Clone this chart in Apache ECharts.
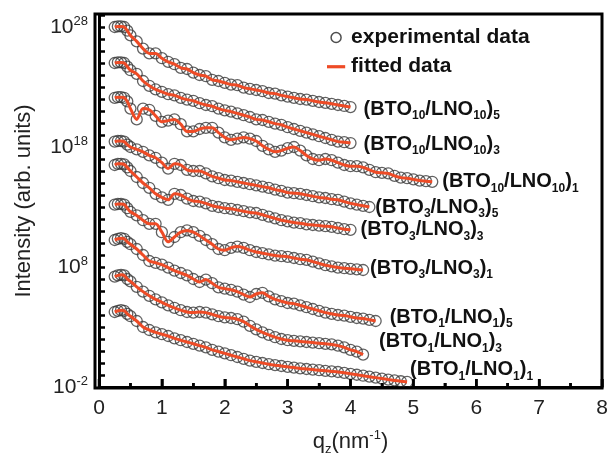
<!DOCTYPE html>
<html>
<head>
<meta charset="utf-8">
<script src="https://cdn.jsdelivr.net/npm/echarts@6/dist/echarts.min.js"></script>
<style>
  html, body { margin: 0; padding: 0; background: #fff; }
  #chart { width: 608px; height: 454px; }
</style>
</head>
<body>
<div id="chart"></div>
<script>
// q_z sampling points (nm^-1), shared by all curves
var qz = [0.25, 0.3, 0.35, 0.4, 0.45, 0.5, 0.6, 0.7, 0.8, 0.9, 1.0, 1.1, 1.2, 1.3, 1.4, 1.5, 1.6, 1.7, 1.8, 1.9,
	2.0, 2.1, 2.2, 2.3, 2.4, 2.5, 2.6, 2.7, 2.8, 2.9, 3.0, 3.1, 3.2, 3.3, 3.4, 3.5, 3.6, 3.7, 3.8, 3.9,
	4.0, 4.1, 4.2, 4.3, 4.4, 4.5, 4.6, 4.7, 4.8, 4.9, 5.0, 5.1, 5.2, 5.3];

// log10(intensity) of each (offset) curve
var lgI_10_10_5 = [28.0, 28.05, 28.05, 28.0, 27.7, 27.3, 26.8, 26.2, 25.8, 25.8, 25.4, 25.1, 24.9, 24.6, 24.5, 24.2, 24.0, 23.9, 23.6, 23.5,
	23.35, 23.2, 23.15, 22.95, 22.85, 22.75, 22.65, 22.5, 22.45, 22.3, 22.2, 22.1, 22.0, 21.95, 21.85, 21.75, 21.68, 21.6, 21.5, 21.42, 21.33];
var lgI_10_10_3 = [25.0, 25.05, 25.05, 25.0, 24.7, 24.4, 24.1, 23.5, 23.1, 22.8, 22.6, 22.4, 22.3, 22.1, 21.95, 21.85, 21.65, 21.5, 21.4, 21.2,
	21.05, 20.95, 20.8, 20.65, 20.5, 20.3, 20.25, 20.1, 19.95, 19.85, 19.65, 19.5, 19.35, 19.2, 19.05, 18.9, 18.75, 18.6, 18.45, 18.4, 18.33];
var lgI_10_10_1 = [22.1, 22.15, 22.15, 22.1, 21.8, 21.2, 20.3, 21.2, 21.1, 20.6, 20.1, 20.2, 20.3, 19.9, 19.3, 19.3, 19.5, 19.6, 19.6, 19.2,
	18.8, 18.6, 18.7, 18.8, 18.7, 18.5, 18.1, 17.8, 17.6, 17.7, 17.9, 18.0, 17.7, 17.3, 17.0, 16.9, 17.0, 16.9, 16.7, 16.5,
	16.4, 16.4, 16.3, 16.1, 15.9, 15.85, 15.8, 15.6, 15.45, 15.4, 15.3, 15.2, 15.15, 15.1];
var lgI_3_3_5 = [18.45, 18.5, 18.5, 18.45, 18.2, 18.0, 17.8, 17.6, 17.3, 17.1, 16.7, 16.2, 16.6, 16.5, 16.1, 16.0, 16.0, 15.8, 15.55, 15.4,
	15.25, 15.2, 15.1, 15.0, 14.9, 14.8, 14.7, 14.6, 14.45, 14.35, 14.2, 14.15, 14.1, 14.0, 13.9, 13.8, 13.75, 13.65, 13.6, 13.45,
	13.3, 13.2, 13.1, 13.0];
var lgI_3_3_3 = [16.5, 16.6, 16.6, 16.55, 16.3, 16.0, 15.5, 15.0, 14.6, 14.1, 13.8, 13.6, 14.1, 14.0, 13.7, 13.5, 13.45, 13.3, 13.1, 13.0,
	12.9, 12.85, 12.75, 12.65, 12.55, 12.5, 12.35, 12.2, 12.05, 11.9, 11.8, 11.7, 11.65, 11.55, 11.5, 11.45, 11.4, 11.35, 11.25, 11.15, 11.1];
var lgI_3_3_1 = [13.2, 13.25, 13.25, 13.2, 12.9, 12.6, 12.3, 11.9, 11.6, 11.6, 10.9, 10.1, 10.5, 10.9, 11.05, 10.9, 10.6, 10.25, 9.9, 9.5,
	9.4, 9.6, 9.7, 9.6, 9.4, 9.25, 9.15, 9.05, 8.95, 8.9, 8.85, 8.75, 8.65, 8.6, 8.45, 8.3, 8.15, 8.05, 7.95, 7.9,
	7.85, 7.8, 7.75];
var lgI_1_1_5 = [10.25, 10.35, 10.4, 10.35, 10.1, 9.9, 9.5, 9.0, 8.5, 8.35, 8.2, 7.95, 7.7, 7.5, 7.3, 7.0, 6.75, 6.95, 6.65, 6.3,
	6.2, 6.1, 5.95, 5.7, 5.5, 5.75, 5.85, 5.55, 5.3, 5.15, 5.0, 4.95, 4.8, 4.65, 4.5, 4.35, 4.2, 4.1, 4.0, 3.95,
	3.85, 3.75, 3.7, 3.6, 3.5];
var lgI_1_1_3 = [7.2, 7.3, 7.35, 7.3, 7.0, 6.8, 6.35, 5.95, 5.6, 5.3, 5.05, 4.8, 4.6, 4.4, 4.25, 4.2, 4.25, 4.2, 4.05, 3.9,
	3.8, 3.75, 3.65, 3.45, 3.1, 2.8, 2.55, 2.35, 2.15, 2.0, 1.9, 1.85, 1.8, 1.75, 1.7, 1.65, 1.6, 1.55, 1.45, 1.3,
	1.1, 0.95, 0.7];
var lgI_1_1_1 = [4.25, 4.35, 4.4, 4.35, 4.1, 3.9, 3.5, 3.0, 2.75, 2.55, 2.4, 2.25, 2.05, 1.9, 1.75, 1.6, 1.45, 1.3, 1.1, 0.95,
	0.8, 0.65, 0.5, 0.35, 0.2, 0.1, 0.0, -0.1, -0.18, -0.25, -0.32, -0.38, -0.45, -0.5, -0.55, -0.6, -0.65, -0.7, -0.75, -0.82,
	-0.9, -0.98, -1.06, -1.14, -1.22, -1.3, -1.38, -1.45, -1.52, -1.58];

var curves = [lgI_10_10_5, lgI_10_10_3, lgI_10_10_1, lgI_3_3_5, lgI_3_3_3, lgI_3_3_1, lgI_1_1_5, lgI_1_1_3, lgI_1_1_1];
// sample names: (BTO_n/LNO_n)_m
var layerN = [10, 10, 10, 3, 3, 3, 1, 1, 1];
var periodM = [5, 3, 1, 5, 3, 1, 5, 3, 1];

var xTicks = [0, 8];
var yExpTicks = [-2, 29];
// major (integer) and minor (half) tick positions on q_z
var qzTickVals = [0, 0.5, 1, 1.5, 2, 2.5, 3, 3.5, 4, 4.5, 5, 5.5, 6, 6.5, 7, 7.5, 8];

var FONT = '"Liberation Sans", Arial, Helvetica, sans-serif';
var RED = '#ee4b26';

// where each sample name sits relative to the end of its curve
var labelOffsets = [[8, 2], [8, 1], [5, 0], [1, 0], [5, 0], [2, -2], [9, -4], [11, -13], [-2, -12]];

var chart = echarts.init(document.getElementById('chart'), null, { renderer: 'canvas' });

var labelRich = {
	m: { fontSize: 20, fontWeight: 'bold', color: '#111', fontFamily: FONT, lineHeight: 24 },
	s: { fontSize: 12, fontWeight: 'bold', color: '#111', fontFamily: FONT, lineHeight: 12, padding: [14, 0, 0, 0] }
};

var series = [];
for (var i = 0; i < curves.length; i++) {
	var pts = [];
	for (var j = 0; j < curves[i].length; j++) {
		pts.push([qz[j], curves[i][j]]);
	}
	series.push({
		name: 'experimental data',
		type: 'scatter',
		data: pts,
		symbol: 'circle',
		symbolSize: 11,
		itemStyle: { color: 'rgba(255,255,255,0)', borderColor: '#3a3a3a', borderWidth: 1.3 },
		z: 2,
		silent: true
	});
	(function (k) {
		series.push({
			name: 'fitted data',
			type: 'line',
			data: pts,
			symbol: 'none',
			smooth: 0.3,
			lineStyle: { color: RED, width: 3 },
			itemStyle: { color: RED },
			z: 3,
			silent: true,
			endLabel: {
				show: true,
				distance: 5,
				offset: labelOffsets[k],
				formatter: function () {
					return '{m|(BTO}{s|' + layerN[k] + '}{m|/LNO}{s|' + layerN[k] + '}{m|)}{s|' + periodM[k] + '}';
				},
				rich: labelRich
			}
		});
	})(i);
}

// inward x ticks on the bottom edge, placed through the x scale
var tickData = [];
for (var t = 0; t < qzTickVals.length; t++) {
	tickData.push([qzTickVals[t], yExpTicks[0]]);
}
series.push({
	name: 'ticks',
	type: 'custom',
	data: tickData,
	silent: true,
	clip: false,
	z: 10,
	renderItem: function (params, api) {
		var q = api.value(0);
		var p = api.coord([q, api.value(1)]);
		var len = (q % 1 === 0) ? 8 : 4;
		return {
			type: 'line',
			shape: { x1: p[0], y1: p[1], x2: p[0], y2: p[1] - len },
			style: { stroke: '#000', lineWidth: 2.5 }
		};
	}
});

var option = {
	backgroundColor: '#fff',
	animation: false,
	grid: { left: 99, right: 6, top: 15, bottom: 67, containLabel: false, outerBoundsMode: 'none' },
	legend: {
		orient: 'vertical',
		left: 322,
		top: 22,
		itemGap: 8,
		itemWidth: 20,
		itemHeight: 10,
		selectedMode: false,
		textStyle: { fontSize: 21, fontWeight: 'bold', color: '#111', fontFamily: FONT },
		data: [
			{ name: 'experimental data', icon: 'circle', itemStyle: { color: 'rgba(255,255,255,0)', borderColor: '#222', borderWidth: 1.5 } },
			{ name: 'fitted data', icon: 'path://M0,0M0,4L20,4L20,7.5L0,7.5ZM20,11', itemStyle: { color: RED, borderWidth: 0 } }
		]
	},
	xAxis: {
		type: 'value',
		min: xTicks[0],
		max: xTicks[1],
		interval: 1,
		axisLine: { show: true, onZero: false, lineStyle: { color: '#000', width: 3 } },
		axisTick: { show: true, inside: true, length: 8, lineStyle: { color: '#000', width: 2.5 } },
		minorTick: { show: true, splitNumber: 2, length: 4, lineStyle: { color: '#000', width: 2.5 } },
		splitLine: { show: false },
		axisLabel: { fontSize: 21, color: '#222', margin: 11, fontFamily: FONT },
		name: '{t|q}{s|z}{t|(nm}{p|-1}{t|)}',
		nameLocation: 'middle',
		nameGap: 42,
		nameTextStyle: {
			rich: {
				t: { fontSize: 22, color: '#222', fontFamily: FONT, lineHeight: 26 },
				s: { fontSize: 13, color: '#222', fontFamily: FONT, lineHeight: 13, padding: [15, 0, 0, 0] },
				p: { fontSize: 13, color: '#222', fontFamily: FONT, lineHeight: 13, padding: [0, 0, 13, 0] }
			}
		}
	},
	yAxis: {
		type: 'value',
		min: yExpTicks[0],
		max: yExpTicks[1],
		interval: 1,
		offset: 4,
		axisLine: { show: true, lineStyle: { color: '#000', width: 3 } },
		axisTick: { show: true, inside: true, length: 6, lineStyle: { color: '#000', width: 2.5 } },
		splitLine: { show: false },
		axisLabel: {
			margin: 7,
			formatter: function (v) {
				if ((v + 2) % 10 === 0) {
					return '{b|10}{e|' + v + '}';
				}
				return '';
			},
			rich: {
				b: { fontSize: 21, color: '#222', fontFamily: FONT, lineHeight: 22 },
				e: { fontSize: 13, color: '#222', fontFamily: FONT, lineHeight: 13, padding: [0, 0, 12, 0] }
			}
		},
		name: 'Intensity (arb. units)',
		nameLocation: 'middle',
		nameGap: 60,
		nameTextStyle: { fontSize: 22, color: '#222', fontFamily: FONT }
	},
	graphic: [{
		type: 'rect',
		shape: { x: 95, y: 14, width: 507, height: 374 },
		style: { fill: null, stroke: '#000', lineWidth: 3 },
		z: 100,
		silent: true
	}],
	series: series
};

chart.setOption(option);
</script>
</body>
</html>
